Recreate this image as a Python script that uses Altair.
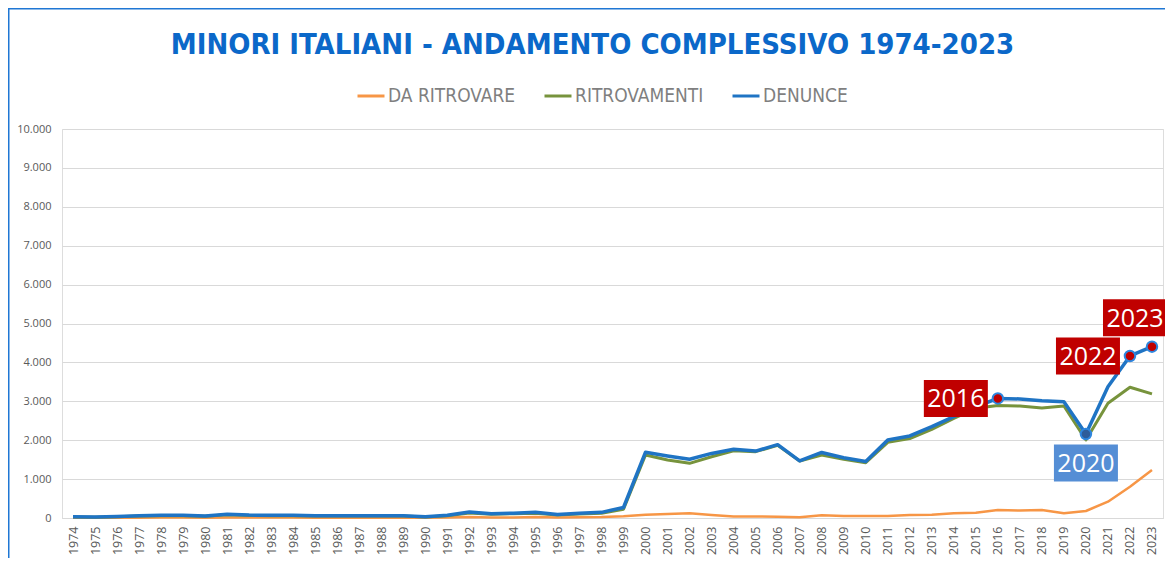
import altair as alt
import pandas as pd

years = list(range(1974, 2024))

denunce = [30, 25, 40, 55, 70, 70, 50, 95, 75, 70, 70, 55, 55, 55, 55, 55,
           30, 70, 155, 110, 125, 150, 90, 125, 145, 270,
           1690, 1595, 1510, 1660, 1765, 1720, 1885, 1470, 1685, 1550,
           1450, 2005, 2110, 2350, 2605, 2860, 3075, 3060, 3015, 2990,
           2160, 3375, 4165, 4405]

ritrovamenti = [25, 20, 35, 50, 60, 60, 45, 85, 65, 60, 60, 50, 50, 50, 50, 50,
                25, 60, 130, 95, 110, 125, 80, 105, 120, 225,
                1620, 1490, 1405, 1575, 1730, 1705, 1870, 1465, 1620, 1510,
                1420, 1945, 2040, 2280, 2560, 2820, 2890, 2880, 2830, 2880,
                2005, 2950, 3360, 3190]

da_ritrovare = [5, 5, 5, 5, 10, 10, 5, 10, 10, 10, 10, 5, 5, 5, 5, 5,
                5, 10, 25, 15, 15, 25, 10, 20, 25, 45,
                85, 105, 120, 80, 40, 40, 30, 20, 70, 50,
                50, 50, 75, 85, 120, 135, 205, 190, 205, 120,
                180, 420, 805, 1235]

series_names = ["DA RITROVARE", "RITROVAMENTI", "DENUNCE"]
series_colors = ["#F79646", "#77933C", "#1F74C4"]
series_widths = [2.5, 3, 3.5]

y_ticks = list(range(0, 10001, 1000))

ann_labels = ["2016", "2020", "2022", "2023"]
ann_box_colors = ["#C00000", "#558ED5", "#C00000", "#C00000"]
ann_dot_colors = ["#C00000", "#2E5C9A", "#C00000", "#C00000"]
ann_offsets = [(-42, 0), (0, 29), (-42, 0), (-17, -29)]

rows = []
for name, vals in zip(series_names, [da_ritrovare, ritrovamenti, denunce]):
    for yr, v in zip(years, vals):
        rows.append({"anno": str(yr), "serie": name, "valore": v})
df = pd.DataFrame(rows)

ann_df = df[(df["serie"] == "DENUNCE") & (df["anno"].isin(ann_labels))].copy()

AXIS_FONT = "Open Sans"
NARROW = "Liberation Sans Narrow, DejaVu Sans Condensed, Roboto"

x_enc = alt.X(
    "anno:O",
    sort=None,
    scale=alt.Scale(type="point", padding=0.5),
    axis=alt.Axis(
        labelAngle=-90, labelFontSize=12.5, labelColor="#595959", labelFont=AXIS_FONT,
        labelPadding=8, ticks=False, domainColor="#D9D9D9", domainWidth=1,
        grid=False, title=None, labelOverlap=False,
    ),
)
y_enc = alt.Y(
    "valore:Q",
    scale=alt.Scale(domain=[0, 10000]),
    axis=alt.Axis(
        values=y_ticks, labelExpr="replace(format(datum.value, ','), ',', '.')",
        labelFontSize=11, labelColor="#595959", labelFont=AXIS_FONT, labelPadding=11,
        ticks=False, domain=False, grid=True, gridColor="#D9D9D9", gridWidth=1,
        title=None,
    ),
)
color_enc = alt.Color(
    "serie:N",
    scale=alt.Scale(domain=series_names, range=series_colors),
    legend=alt.Legend(
        orient="none", legendX=294, legendY=-48, direction="horizontal", title=None,
        symbolType="stroke", symbolSize=729, symbolStrokeWidth=3,
        labelFont=NARROW,
        labelFontSize=19, labelColor="#7F7F7F", labelOffset=2, columnPadding=22,
        padding=0,
    ),
)

layers = []
for name, w in zip(series_names, series_widths):
    layers.append(
        alt.Chart(df).transform_filter(alt.datum.serie == name)
        .mark_line(strokeWidth=w, strokeJoin="round")
        .encode(x=x_enc, y=y_enc, color=color_enc)
    )

for lab, bcol, (dx, dy) in zip(ann_labels, ann_box_colors, ann_offsets):
    sub = ann_df[ann_df["anno"] == lab]
    layers.append(
        alt.Chart(sub).mark_point(
            shape="M-32,-18.5H32V18.5H-32Z", size=4, filled=True, fill=bcol,
            opacity=1, strokeWidth=0, xOffset=dx, yOffset=dy,
        ).encode(x=x_enc, y=y_enc)
    )
    layers.append(
        alt.Chart(sub).mark_text(
            font="Open Sans", fontSize=25, color="white", align="center",
            baseline="middle", dx=dx, dy=dy + 1,
        ).encode(x=x_enc, y=y_enc, text="anno:N")
    )

for lab, dcol in zip(ann_labels, ann_dot_colors):
    sub = ann_df[ann_df["anno"] == lab]
    layers.append(
        alt.Chart(sub).mark_point(
            shape="circle", size=110, filled=True, fill=dcol, opacity=1,
            stroke="#2E86DE", strokeWidth=2,
        ).encode(x=x_enc, y=y_enc)
    )

one = alt.Data(values=[{"k": 1}])
layers.append(
    alt.Chart(one).mark_rule(color="#1F77D4", strokeWidth=1.5)
    .encode(x=alt.value(-54), x2=alt.value(1103), y=alt.value(-120.25))
)
layers.append(
    alt.Chart(one).mark_rule(color="#1F77D4", strokeWidth=1.5)
    .encode(x=alt.value(-53.25), y=alt.value(-121), y2=alt.value(440))
)

chart = alt.layer(*layers).properties(
    width=1101,
    height=389,
    autosize=alt.AutoSizeParams(type="none"),
    padding={"left": 54, "top": 121, "right": 2, "bottom": 40},
    title=alt.Title(
        "MINORI ITALIANI - ANDAMENTO COMPLESSIVO 1974-2023",
        font=NARROW,
        fontSize=29, fontWeight="bold", color="#0B68C9",
        anchor="middle", dx=-20, offset=-76, baseline="alphabetic",
    ),
).configure_view(stroke=None).configure(background="white")

chart.save("out.html", embed_options={"renderer": "svg", "actions": False})
